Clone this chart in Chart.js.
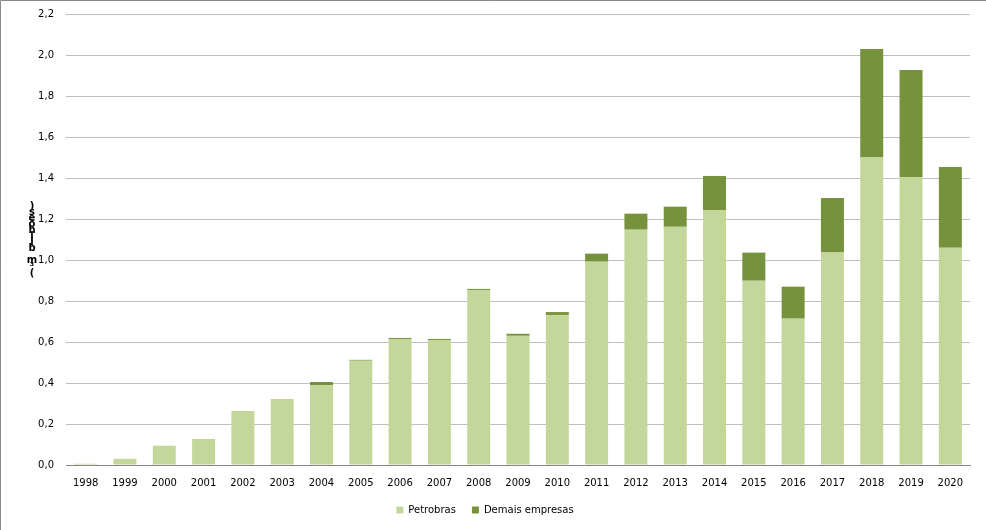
<!DOCTYPE html>
<html>
<head>
<meta charset="utf-8">
<script src="https://cdn.jsdelivr.net/npm/chart.js"></script>
<style>
  html, body { margin: 0; padding: 0; background: #fff; }
  #wrap { width: 986px; height: 530px; position: relative; }
</style>
</head>
<body>
<div id="wrap"><canvas id="grafico"></canvas></div>
<script>
// Anos e valores (bilhões m³)
const anos = ['1998', '1999', '2000', '2001', '2002', '2003', '2004', '2005', '2006', '2007', '2008', '2009',
              '2010', '2011', '2012', '2013', '2014', '2015', '2016', '2017', '2018', '2019', '2020'];
const petrobras = [0.006, 0.03, 0.094, 0.127, 0.264, 0.322, 0.39, 0.509, 0.615, 0.61, 0.854, 0.63,
                   0.732, 0.992, 1.148, 1.162, 1.244, 0.899, 0.714, 1.036, 1.502, 1.405, 1.06];
const demais = [0, 0, 0, 0, 0, 0, 0.015, 0.004, 0.005, 0.005, 0.005, 0.01,
                0.014, 0.039, 0.078, 0.098, 0.166, 0.137, 0.156, 0.266, 0.527, 0.522, 0.394];
const tituloEixo = '(bilhões m³)';
// ordem em que os caracteres aparecem empilhados no original
const tituloEmpilhado = [')', 's', 'e', 'õ', 'h', 'l', 'i', 'b', ' ', 'm', '³', '('];

const fonte = 'DejaVu Sans';

// fundo branco + bordas superior e esquerda
const fundo = {
    id: 'fundo',
    beforeDraw(chart) {
        const ctx = chart.ctx;
        ctx.save();
        ctx.fillStyle = '#fff';
        ctx.fillRect(0, 0, chart.width, chart.height);
        ctx.strokeStyle = '#898989';
        ctx.lineWidth = 1;
        ctx.beginPath();
        ctx.moveTo(0.5, chart.height);
        ctx.lineTo(0.5, 0.5);
        ctx.lineTo(chart.width, 0.5);
        ctx.stroke();
        ctx.restore();
    }
};

// título do eixo Y com letras empilhadas
const tituloY = {
    id: 'tituloY',
    afterDraw(chart) {
        const ctx = chart.ctx;
        ctx.save();
        ctx.fillStyle = '#000';
        ctx.font = 'bold 10px ' + fonte;
        ctx.textAlign = 'center';
        ctx.textBaseline = 'middle';
        tituloEmpilhado.forEach((c, i) => {
            ctx.fillText(c, 32, 206 + i * 6.1);
        });
        ctx.restore();
    }
};

new Chart(document.getElementById('grafico'), {
    type: 'bar',
    data: {
        labels: anos,
        datasets: [{
            label: 'Petrobras',
            data: petrobras,
            backgroundColor: '#C4D79B',
            categoryPercentage: 1,
            barPercentage: 0.585
        }, {
            label: 'Demais empresas',
            data: demais,
            backgroundColor: '#76923C',
            categoryPercentage: 1,
            barPercentage: 0.585
        }]
    },
    options: {
        responsive: true,
        maintainAspectRatio: false,
        animation: false,
        layout: { padding: { top: 14, right: 16, bottom: 5, left: 0 } },
        plugins: {
            tooltip: { enabled: false },
            legend: {
                position: 'bottom',
                labels: {
                    boxWidth: 7,
                    boxHeight: 7,
                    padding: 16,
                    color: '#000',
                    font: { family: fonte, size: 10 }
                }
            }
        },
        scales: {
            x: {
                stacked: true,
                grid: { display: false, drawTicks: false },
                border: { display: true, color: '#868686', width: 1 },
                ticks: {
                    color: '#000',
                    padding: 12,
                    maxRotation: 0,
                    font: { family: fonte, size: 10 }
                },
                afterFit(s) { s.height = 24; }
            },
            y: {
                stacked: true,
                min: 0,
                max: 2.2,
                title: { display: false, text: tituloEixo },
                grid: { color: '#BFBFBF', drawTicks: false },
                border: { display: false },
                ticks: {
                    stepSize: 0.2,
                    padding: 12,
                    color: '#000',
                    font: { family: fonte, size: 10 },
                    callback: v => v.toFixed(1).replace('.', ',')
                },
                afterFit(s) {
                    s.width = 66;
                    s.paddingTop = 0;
                    s.paddingBottom = 0;
                }
            }
        }
    },
    plugins: [fundo, tituloY]
});
</script>
</body>
</html>
